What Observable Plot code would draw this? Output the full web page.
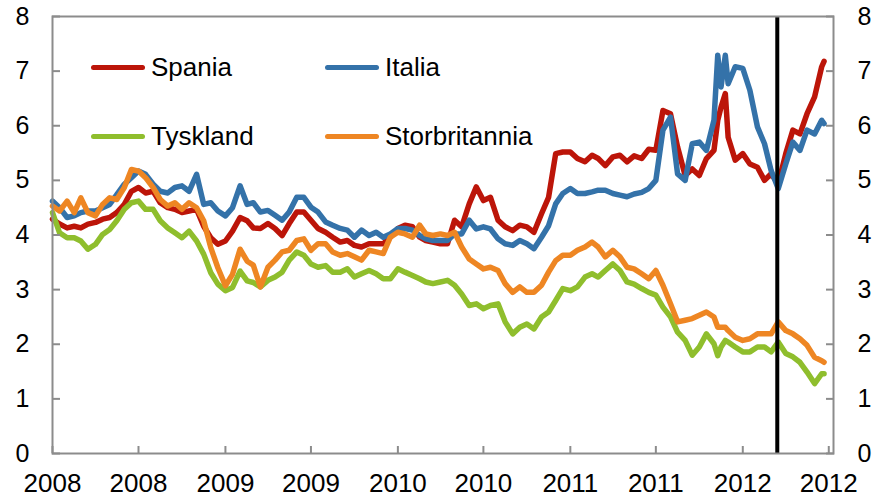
<!DOCTYPE html>
<html>
<head>
<meta charset="utf-8">
<script src="https://cdn.jsdelivr.net/npm/d3@7"></script>
<script src="https://cdn.jsdelivr.net/npm/@observablehq/plot@0.6"></script>
<style>
  html, body { margin: 0; padding: 0; background: #fff; }
  #wrap { position: relative; width: 885px; height: 499px; font-family: "Liberation Sans", Arial, sans-serif; }
  .leg { position: absolute; display: flex; align-items: center; font-size: 26px; color: #000; white-space: nowrap; }
  .leg .sw { width: 54px; height: 5px; border-radius: 3px; margin-right: 6px; }
</style>
</head>
<body>
<div id="wrap"></div>
<script>
const dates = [
  "2008-01-01","2008-01-16","2008-02-01","2008-02-16","2008-03-01","2008-03-16","2008-04-01","2008-04-16",
  "2008-05-01","2008-05-16","2008-06-01","2008-06-16","2008-07-01","2008-07-16","2008-08-01","2008-08-16",
  "2008-09-01","2008-09-16","2008-10-01","2008-10-16","2008-11-01","2008-11-16","2008-12-01","2008-12-16",
  "2009-01-01","2009-01-16","2009-02-01","2009-02-16","2009-03-01","2009-03-16","2009-04-01","2009-04-16",
  "2009-05-01","2009-05-16","2009-06-01","2009-06-16","2009-07-01","2009-07-16","2009-08-01","2009-08-16",
  "2009-09-01","2009-09-16","2009-10-01","2009-10-16","2009-11-01","2009-11-16","2009-12-01","2009-12-16",
  "2010-01-01","2010-01-16","2010-02-01","2010-02-16","2010-03-01","2010-03-16","2010-04-01","2010-04-16",
  "2010-05-01","2010-05-16","2010-06-01","2010-06-16","2010-07-01","2010-07-16","2010-08-01","2010-08-16",
  "2010-09-01","2010-09-16","2010-10-01","2010-10-16","2010-11-01","2010-11-16","2010-12-01","2010-12-16",
  "2011-01-01","2011-01-16","2011-02-01","2011-02-16","2011-03-01","2011-03-16","2011-04-01","2011-04-16",
  "2011-05-01","2011-05-16","2011-06-01","2011-06-16","2011-07-01","2011-07-16","2011-08-01","2011-08-16",
  "2011-09-01","2011-09-16","2011-10-01","2011-10-16","2011-11-01","2011-11-09","2011-11-16","2011-11-25",
  "2011-12-01","2011-12-16","2012-01-01","2012-01-16","2012-02-01","2012-02-16","2012-03-01","2012-03-16",
  "2012-04-01","2012-04-16","2012-05-01","2012-05-16","2012-06-01","2012-06-16","2012-06-21"
];

const spania = [
  4.29,4.20,4.13,4.16,4.13,4.20,4.23,4.29,4.32,4.41,4.56,4.80,4.87,4.77,4.80,4.59,
  4.50,4.47,4.41,4.44,4.47,4.16,3.95,3.83,3.89,4.07,4.32,4.26,4.13,4.12,4.21,4.12,
  3.99,4.21,4.42,4.42,4.27,4.12,4.05,3.96,3.87,3.90,3.81,3.78,3.84,3.84,3.84,3.96,
  4.12,4.18,4.15,3.96,3.90,3.87,3.84,3.84,4.27,4.15,4.57,4.88,4.63,4.69,4.27,4.15,
  4.08,4.18,4.15,4.05,4.39,4.69,5.49,5.52,5.52,5.40,5.34,5.46,5.40,5.27,5.43,5.46,
  5.34,5.45,5.40,5.57,5.55,6.28,6.22,5.61,5.09,5.21,5.09,5.40,5.55,6.10,6.34,6.59,
  5.79,5.37,5.49,5.30,5.24,5.00,5.12,4.94,5.49,5.92,5.85,6.22,6.53,7.08,7.18
];

const italia = [
  4.62,4.50,4.32,4.35,4.41,4.44,4.44,4.50,4.56,4.74,4.93,5.05,5.17,5.11,4.93,4.80,
  4.77,4.87,4.90,4.80,5.11,4.56,4.59,4.44,4.35,4.50,4.90,4.56,4.59,4.42,4.45,4.36,
  4.27,4.42,4.69,4.69,4.51,4.42,4.24,4.18,4.12,4.09,3.96,4.09,3.99,4.05,3.96,4.02,
  4.12,4.12,4.09,3.99,3.93,3.90,3.90,3.90,4.02,4.02,4.27,4.11,4.15,4.11,3.93,3.84,
  3.81,3.90,3.84,3.75,3.96,4.17,4.57,4.76,4.85,4.76,4.76,4.79,4.82,4.82,4.76,4.73,
  4.70,4.75,4.78,4.85,5.00,5.92,6.16,5.12,5.00,5.67,5.70,5.55,6.10,7.29,6.71,7.29,
  6.77,7.08,7.05,6.65,5.98,5.67,5.18,4.85,5.30,5.70,5.55,5.92,5.85,6.10,6.04
];

const tyskland = [
  4.41,4.04,3.95,3.95,3.89,3.74,3.83,4.01,4.10,4.26,4.47,4.59,4.62,4.47,4.47,4.26,
  4.13,4.04,3.95,4.07,3.89,3.65,3.31,3.10,2.98,3.04,3.34,3.16,3.13,3.05,3.17,3.23,
  3.32,3.54,3.69,3.63,3.47,3.41,3.44,3.32,3.32,3.38,3.23,3.29,3.35,3.29,3.20,3.20,
  3.38,3.32,3.26,3.20,3.14,3.11,3.14,3.17,3.08,2.92,2.71,2.74,2.65,2.71,2.74,2.41,
  2.19,2.31,2.37,2.28,2.50,2.59,2.80,3.02,2.98,3.05,3.23,3.29,3.23,3.35,3.47,3.35,
  3.14,3.10,3.02,2.95,2.90,2.68,2.50,2.22,2.07,1.80,1.95,2.19,2.01,1.79,1.95,2.07,
  2.04,1.95,1.86,1.86,1.95,1.95,1.86,2.04,1.83,1.77,1.67,1.49,1.28,1.46,1.46
];

const storbritannia = [
  4.53,4.44,4.62,4.41,4.68,4.41,4.35,4.56,4.68,4.65,4.87,5.20,5.17,5.05,4.87,4.65,
  4.53,4.59,4.47,4.59,4.50,4.26,3.77,3.40,3.07,3.28,3.74,3.52,3.45,3.05,3.41,3.54,
  3.69,3.72,3.90,3.93,3.72,3.84,3.84,3.69,3.63,3.66,3.60,3.54,3.72,3.69,3.66,3.96,
  4.05,4.02,3.96,4.18,4.02,3.99,4.02,3.99,4.05,3.78,3.56,3.47,3.38,3.41,3.35,3.11,
  2.95,3.05,2.95,2.95,3.08,3.32,3.53,3.63,3.63,3.72,3.78,3.87,3.78,3.60,3.72,3.60,
  3.41,3.38,3.29,3.20,3.35,3.08,2.74,2.41,2.44,2.47,2.53,2.59,2.50,2.31,2.31,2.31,
  2.25,2.13,2.07,2.10,2.19,2.19,2.19,2.41,2.25,2.19,2.10,1.98,1.76,1.70,1.67
];

const seriesNames = ["Spania", "Italia", "Tyskland", "Storbritannia"];
const seriesColors = ["#BC1509", "#3472A9", "#8FBE2D", "#EE8623"];
const seriesValues = [spania, italia, tyskland, storbritannia];

const xTickDates = ["2008-01-01","2008-07-01","2009-01-01","2009-07-01","2010-01-01",
                    "2010-07-01","2011-01-01","2011-07-01","2012-01-01","2012-07-01"];
const yTicks = [0, 1, 2, 3, 4, 5, 6, 7, 8];
const markerDate = "2012-03-14";
const xDomain = ["2008-01-01", "2012-07-11"];

const parse = s => new Date(s + "T00:00:00Z");
const rows = seriesNames.map((name, i) =>
  dates.map((d, j) => ({date: parse(d), value: seriesValues[i][j], series: name})));

const grey = "#8c8c8c";
const fmtYear = d3.utcFormat("%Y");
const fmtInt = d => String(Math.round(d));

const chart = Plot.plot({
  width: 885,
  height: 499,
  marginLeft: 52,
  marginRight: 52,
  marginTop: 16,
  marginBottom: 46,
  style: {fontFamily: "'Liberation Sans', Arial, sans-serif", fontSize: "25px", color: "#000", background: "#fff"},
  x: {type: "utc", domain: xDomain.map(parse)},
  y: {domain: [0, 8]},
  marks: [
    ...rows.map((r, i) => Plot.line(r, {
      x: "date", y: "value", stroke: seriesColors[i], strokeWidth: 5.5,
      strokeLinejoin: "round", strokeLinecap: "round"
    })),
    Plot.ruleX([parse(markerDate)], {stroke: "#000", strokeWidth: 4}),
    Plot.frame({stroke: grey, strokeWidth: 2}),
    // inward ticks
    Plot.axisY(yTicks, {anchor: "left", tickSize: -8, tickFormat: () => "", stroke: grey, strokeWidth: 2, label: null}),
    Plot.axisY(yTicks, {anchor: "right", tickSize: -8, tickFormat: () => "", stroke: grey, strokeWidth: 2, label: null}),
    Plot.axisX(xTickDates.map(parse), {anchor: "bottom", tickSize: -7, tickFormat: () => "", stroke: grey, strokeWidth: 2, label: null}),
    // labels
    Plot.axisY(yTicks, {anchor: "left", tickSize: 0, tickPadding: 23, tickFormat: fmtInt, label: null, fontSize: 25, fill: "#000"}),
    Plot.axisY(yTicks, {anchor: "right", tickSize: 0, tickPadding: 24, tickFormat: fmtInt, label: null, fontSize: 25, fill: "#000"}),
    Plot.axisX(xTickDates.map(parse), {anchor: "bottom", tickSize: 0, tickPadding: 20, tickFormat: fmtYear, label: null, fontSize: 26, fill: "#000"})
  ]
});

const wrap = document.getElementById("wrap");
wrap.appendChild(chart);

const legendPos = [[91, 67], [325, 67], [91, 136], [325, 136]];
seriesNames.forEach((name, i) => {
  const el = document.createElement("div");
  el.className = "leg";
  el.style.left = legendPos[i][0] + "px";
  el.style.top = (legendPos[i][1] - 16) + "px";
  el.style.height = "32px";
  const sw = document.createElement("div");
  sw.className = "sw";
  sw.style.background = seriesColors[i];
  const t = document.createElement("span");
  t.textContent = name;
  el.appendChild(sw);
  el.appendChild(t);
  wrap.appendChild(el);
});
</script>
</body>
</html>
